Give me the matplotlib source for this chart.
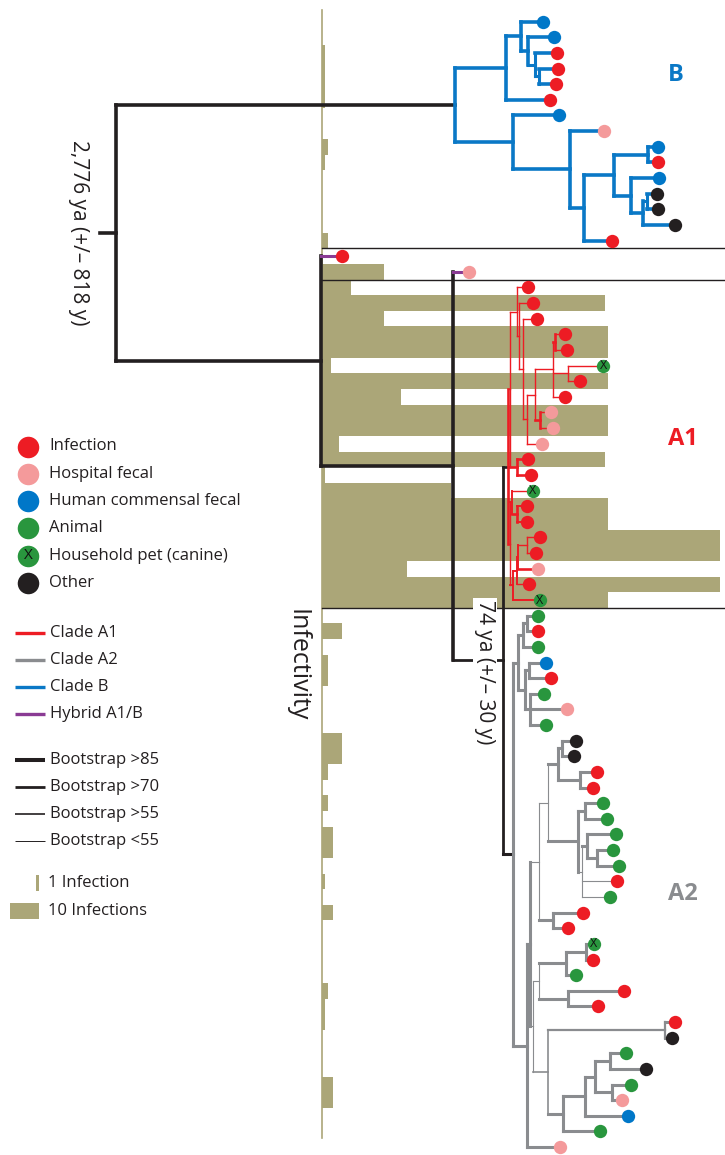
import matplotlib
matplotlib.use('Agg')
import matplotlib.pyplot as plt

plt.rcParams['font.family'] = ['Open Sans', 'DejaVu Sans']

# ---- leaves, top to bottom ----
LEAF_CAT = ['hum', 'hum', 'inf', 'inf', 'inf', 'inf', 'hum', 'hosp', 'hum', 'inf',
            'hum', 'oth', 'oth', 'oth', 'inf',
            'inf', 'hosp',
            'inf', 'inf', 'inf', 'inf', 'inf', 'pet', 'inf', 'inf', 'hosp', 'hosp',
            'hosp', 'inf', 'inf', 'pet', 'inf', 'inf', 'inf', 'inf', 'hosp', 'inf', 'pet',
            'ani', 'inf', 'ani', 'hum', 'inf', 'ani', 'hosp', 'ani', 'oth', 'oth',
            'inf', 'inf', 'ani', 'ani', 'ani', 'ani', 'ani', 'inf', 'ani', 'inf',
            'inf', 'pet', 'inf', 'ani', 'inf', 'inf', 'inf', 'oth', 'ani', 'oth',
            'ani', 'hosp', 'hum', 'ani', 'hosp']
LEAF_TIP = [543, 554, 556.7, 558.3, 555.7, 550, 559.3, 604, 657.7, 657.7,
            659.3, 657.3, 658.3, 675, 611.7,
            342.3, 469,
            528.3, 532.7, 536.7, 565, 566.7, 603.3, 580, 565, 550.7, 552.7,
            541.7, 527.7, 530.7, 532.7, 527.3, 526.7, 540, 536, 538.3, 529.3, 540,
            538.3, 537.7, 537.7, 546, 550.7, 544, 567.3, 546, 576, 574,
            596.7, 593.3, 603.3, 606.7, 616, 613.3, 619.3, 616.7, 610, 582.7,
            568.3, 594, 592.7, 576, 624, 597.7, 675, 671.7, 626, 646,
            630.7, 622, 628.3, 600, 560]
INFECTIONS = [0, 0, 1, 1, 1, 1, 0, 0, 2, 1, 0, 0, 0, 0, 2,
              0, 21,
              10, 96, 21, 97, 97, 3, 97, 27, 97, 97, 6, 96, 1, 44, 97, 97, 135, 135, 29, 135, 97,
              0, 7, 0, 2, 2, 0, 0, 0, 7, 7, 2, 0, 2, 0, 4, 4, 0, 1, 0, 4,
              0, 0, 0, 0, 2, 1, 1, 0, 0, 0, 4, 4, 0, 0, 0]
HYBRIDS = [15, 16]
A1_LAST = 37

# ---- tree: [node depth, line width, children...]; int = leaf, (leaf, lw) ----
TREE_B = [455, 2.6,
          [505.7, 2.6,
           [520.7, 2.6, 0,
            [528.3, 2.6, 1,
             [535, 2.2, 2, [539.3, 2.2, 3, 4]]]],
           5],
          [513.3, 2.6, 6,
           [570, 2.6, 7,
            [584.3, 2.6,
             [614.3, 2.6,
              [648.3, 2.6, 8, 9],
              [631, 2.6, 10, [643.3, 2.6, [646.7, 2.2, 11, 12], 13]]],
             14]]]]

TREE_A1 = [508.3, 1.9,
           [510, 1.0,
            [516.7, 1.0, 17,
             [519, 1.0, 18,
              [523.3, 1.0, 19,
               [526.7, 1.0,
                [535, 1.0,
                 [553.3, 1.0, [555, 1.9, 20, 21], [568.3, 1.0, 22, 23], 24],
                 [540, 1.9, 25, 26]],
                27]]]],
            [516.7, 1.9, (28, 1.9), (29, 1.9)]],
           [510, 1.0,
            [512.3, 1.4, 30, [516.7, 1.9, (31, 1.4), (32, 1.4)]],
            [513.3, 1.4,
             [516.7, 1.4,
              [518.3, 1.4, [526.7, 1.0, 33, 34], (35, 1.9)],
              36],
             (37, 1.4)]]]

TREE_A2 = [513.3, 2.2,
           [518.3, 2.2,
            [523.3, 2.2, [526.7, 2.2, 38, 39], 40],
            [525, 2.2, [529.3, 2.2, 41, 42], [530, 2.2, 43, 44, 45]]],
           [526.7, 2.2,
            [530, 2.2,
             [539.3, 0.8,
              [548.3, 0.8,
               [558.3, 2.2, [561.7, 2.2, 46, 47], [580, 2.2, 48, 49]],
               [578.3, 2.2,
                [585, 2.2, 50, 51],
                [581.7, 0.8,
                 [586.7, 2.2, 52, [596.7, 2.2, 53, 54]],
                 (55, 0.8), (56, 0.8)]]],
              [553.3, 2.2, 57, 58]],
             [533.3, 0.8,
              [539.3, 0.8,
               [566, 2.2, [586, 2.2, 59, 60], 61],
               [567.7, 2.2, 62, 63]],
              [548.3, 1.2,
               [665, 1.6, 64, 65],
               [563.3, 2.2,
                [585, 2.2,
                 [595, 2.2, [610, 2.2, 66, 67], [611.7, 2.2, 68, 69]],
                 70],
                71]]]],
            72]]

BACKBONE = [115.7, 2.6, 'B', [321, 2.6, 15, [453.3, 2.6, 16, [503.3, 2.0, 'A1', 'A2']]]]
CLADES = {'B': TREE_B, 'A1': TREE_A1, 'A2': TREE_A2}
CLADE_COL = {'B': '#0a78c6', 'A1': '#ed1c24', 'A2': '#8a8c8f'}
CLADE_LEAF_LW = {'B': 2.6, 'A1': 1.0, 'A2': 2.2}

CAT_COL = {'inf': '#ed1c24', 'hosp': '#f49a9b', 'hum': '#0077c8', 'ani': '#29963e',
           'pet': '#29963e', 'oth': '#231f20'}
BLACK = '#231f20'
PURPLE = '#8a3b94'
OLIVE = '#aba678'

LEGEND_SRC = ['Infection', 'Hospital fecal', 'Human commensal fecal', 'Animal',
              'Household pet (canine)', 'Other']
LEGEND_SRC_CAT = ['inf', 'hosp', 'hum', 'ani', 'pet', 'oth']
LEGEND_CLADE = ['Clade A1', 'Clade A2', 'Clade B', 'Hybrid A1/B']
LEGEND_CLADE_COL = ['#ed1c24', '#8a8c8f', '#0a78c6', PURPLE]
LEGEND_BOOT = ['Bootstrap >85', 'Bootstrap >70', 'Bootstrap >55', 'Bootstrap <55']
LEGEND_BOOT_LW = [2.9, 2.0, 1.2, 0.7]
LEGEND_BAR = ['1 Infection', '10 Infections']
LEGEND_BAR_N = [1, 10]

Y0, DY = 21.7, 15.63      # pixel position of first leaf and leaf spacing
BASE_X = 321.7            # bar baseline
PX_PER_INF = 2.95
FS = 12

fig = plt.figure(figsize=(7.25, 11.55), dpi=100)
ax = fig.add_axes([0, 0, 1, 1])
ax.set_xlim(0, 725)
ax.set_ylim((1155 - Y0) / DY, -Y0 / DY)
ax.axis('off')


def node_y(item):
    if isinstance(item, str):
        item = CLADES[item]
    if isinstance(item, int):
        return item
    if isinstance(item, tuple):
        return item[0]
    ys = [node_y(k) for k in item[2:]]
    return (ys[0] + ys[-1]) / 2.0


def seg(xs, ys, col, lw):
    ax.plot(xs, ys, color=col, lw=lw, solid_capstyle='projecting', zorder=3)


def draw(item, px, col, leaf_lw):
    in_col = col          # the stem keeps the parent's colour
    if isinstance(item, str):
        col, leaf_lw = CLADE_COL[item], CLADE_LEAF_LW[item]
        item = CLADES[item]
    if isinstance(item, (int, tuple)):
        i, lw = (item, leaf_lw) if isinstance(item, int) else item
        seg([px, LEAF_TIP[i]], [i, i], PURPLE if i in HYBRIDS else col, lw)
        return
    x, lw, kids = item[0], item[1], item[2:]
    y = node_y(item)
    seg([px, x], [y, y], in_col, lw)
    seg([x, x], [node_y(kids[0]), node_y(kids[-1])], col, lw)
    for k in kids:
        draw(k, x, col, leaf_lw)


# infectivity bars
idx = list(range(len(INFECTIONS)))
ax.barh(idx, [n * PX_PER_INF for n in INFECTIONS], left=BASE_X, height=1.0,
        color=OLIVE, lw=0, zorder=1)
ax.plot([BASE_X, BASE_X], [-0.75, 71.4], color=OLIVE, lw=1.2, zorder=1)

# boxes around the hybrids and clade A1
for yb in [HYBRIDS[0] - 0.5, HYBRIDS[-1] + 0.5, A1_LAST + 0.5]:
    ax.plot([BASE_X, 725], [yb, yb], color=BLACK, lw=1.0, zorder=2)

# tree
draw(BACKBONE, 100, BLACK, 2.2)
root_y = node_y(BACKBONE)

for i, cat in enumerate(LEAF_CAT):
    ax.plot(LEAF_TIP[i], i, 'o', ms=9.6, mfc=CAT_COL[cat], mec='none', zorder=4)
    if cat == 'pet':
        ax.text(LEAF_TIP[i], i, 'X', ha='center', va='center', fontsize=9,
                color='#111111', zorder=5)

ax.text(676, 3.4, 'B', color=CLADE_COL['B'], fontsize=17, fontweight='bold',
        ha='center', va='center')
ax.text(683, 26.7, 'A1', color=CLADE_COL['A1'], fontsize=17, fontweight='bold',
        ha='center', va='center')
ax.text(683, 55.8, 'A2', color=CLADE_COL['A2'], fontsize=17, fontweight='bold',
        ha='center', va='center')

ax.text(78, root_y, '2,776 ya (+/\u2013 818 y)', rotation=270, ha='center',
        va='center', fontsize=15, color=BLACK)
ax.text(485, 41.6, '74 ya (+/\u2013 30 y)', rotation=270, ha='center', va='center',
        fontsize=15, color=BLACK, zorder=3.5,
        bbox=dict(facecolor='white', edgecolor='none', pad=1))
ax.text(297, 41.2, 'Infectivity', rotation=270, ha='center', va='center',
        fontsize=18, color=BLACK)

# legend (pixel coordinates)
lg = fig.add_axes([0, 0, 1, 1])
lg.set_xlim(0, 725)
lg.set_ylim(1155, 0)
lg.axis('off')
lg.patch.set_alpha(0)

for k, (lab, cat) in enumerate(zip(LEGEND_SRC, LEGEND_SRC_CAT)):
    yy = 446.5 + k * 27.3
    lg.plot(28.3, yy, 'o', ms=15.5, mfc=CAT_COL[cat], mec='none')
    if cat == 'pet':
        lg.text(28.3, yy, 'X', ha='center', va='center', fontsize=11, color='#111111')
    lg.text(49.3, yy, lab, ha='left', va='center', fontsize=FS, color=BLACK)

for k, (lab, c) in enumerate(zip(LEGEND_CLADE, LEGEND_CLADE_COL)):
    yy = 633.3 + k * 26.9
    lg.plot([15, 45], [yy, yy], color=c, lw=2.4, solid_capstyle='butt')
    lg.text(50, yy, lab, ha='left', va='center', fontsize=FS, color=BLACK)

for k, (lab, w) in enumerate(zip(LEGEND_BOOT, LEGEND_BOOT_LW)):
    yy = 760 + k * 26.9
    lg.plot([15, 45], [yy, yy], color=BLACK, lw=w, solid_capstyle='butt')
    lg.text(50, yy, lab, ha='left', va='center', fontsize=FS, color=BLACK)

for k, (lab, n) in enumerate(zip(LEGEND_BAR, LEGEND_BAR_N)):
    yy = 883 + k * 28
    w = n * PX_PER_INF
    lg.barh(yy, w, left=39.3 - w, height=16.5, color=OLIVE, lw=0)
    lg.text(48.3, yy, lab, ha='left', va='center', fontsize=FS, color=BLACK)

fig.savefig('out.png', dpi=100)
